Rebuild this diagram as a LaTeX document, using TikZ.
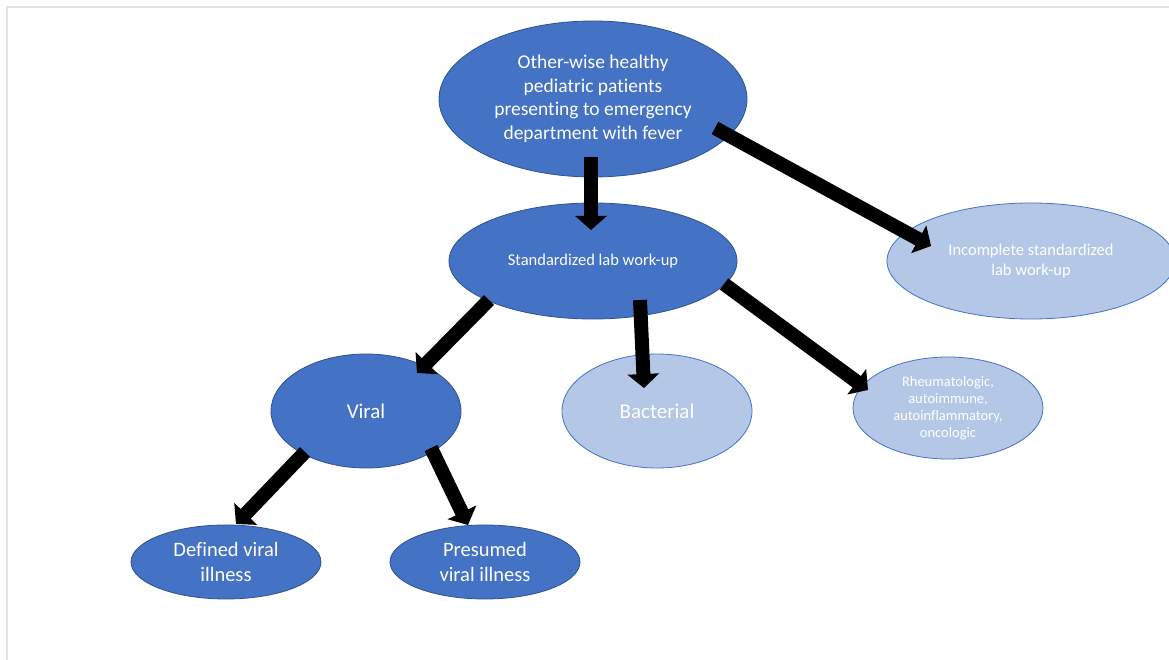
\documentclass[tikz,border=0pt]{standalone}
\usepackage{fontspec}
\setmainfont{Carlito}[Ligatures={NoCommon}]
\usetikzlibrary{shapes.geometric,arrows.meta}
\definecolor{darkfill}{HTML}{4472C4}
\definecolor{lightfill}{HTML}{B4C7E7}
\definecolor{edgeblue}{HTML}{2F528F}
\definecolor{framegray}{HTML}{E2E2E2}
\tikzset{
  oval/.style={ellipse, draw=edgeblue, line width=0.8bp, inner sep=0pt, text=white, align=center},
  darkoval/.style={oval, fill=darkfill},
  lightoval/.style={oval, fill=lightfill, draw=darkfill},
  bigarrow/.style={line width=14bp, black, -{Triangle[length=14bp,width=31bp]}},
}
\begin{document}
\begin{tikzpicture}[x=1bp,y=-1bp]
\useasboundingbox (0,0) rectangle (1169,660);
\draw[framegray, line width=1.5bp] (7,660) -- (7,7) -- (1169,7);

\node[darkoval, minimum width=308bp, minimum height=156bp,
  font=\fontsize{19.5bp}{23.5bp}\selectfont] (top) at (593,99)
  {Other-wise healthy\\pediatric patients\\presenting to emergency\\department with fever};
\node[darkoval, minimum width=288bp, minimum height=116bp,
  font=\fontsize{16.5bp}{20bp}\selectfont] (std) at (593,261) {Standardized lab work-up};
\node[lightoval, minimum width=288bp, minimum height=116bp,
  font=\fontsize{16.5bp}{19.5bp}\selectfont] (inc) at (1031,261) {Incomplete standardized\\lab work-up};
\node[darkoval, minimum width=190bp, minimum height=114bp,
  font=\fontsize{21bp}{25bp}\selectfont] (viral) at (366,411) {Viral};
\node[lightoval, minimum width=190bp, minimum height=114bp,
  font=\fontsize{21bp}{25bp}\selectfont] (bact) at (657,411) {Bacterial};
\node[lightoval, minimum width=190bp, minimum height=102bp,
  font=\fontsize{14.5bp}{17bp}\selectfont] (rheum) at (948,408) {Rheumatologic,\\autoimmune,\\autoinflammatory,\\oncologic};
\node[darkoval, minimum width=190bp, minimum height=74bp,
  font=\fontsize{20.5bp}{25bp}\selectfont] (def) at (226,562) {Defined viral\\illness};
\node[darkoval, minimum width=190bp, minimum height=74bp,
  font=\fontsize{20.5bp}{25bp}\selectfont] (pres) at (485,562) {Presumed\\viral illness};

\coordinate (a1s) at (591,157);  \coordinate (a1e) at (591,230);
\coordinate (a2s) at (715,128);  \coordinate (a2e) at (931,246);
\coordinate (a3s) at (489,300);  \coordinate (a3e) at (417,373);
\coordinate (a4s) at (640,300);  \coordinate (a4e) at (644,388);
\coordinate (a5s) at (724,284);  \coordinate (a5e) at (868,390);
\coordinate (a6s) at (305,452);  \coordinate (a6e) at (236,524);
\coordinate (a7s) at (431,448);  \coordinate (a7e) at (468,525);

\draw[bigarrow] (a1s) -- (a1e);
\draw[bigarrow] (a2s) -- (a2e);
\draw[bigarrow] (a3s) -- (a3e);
\draw[bigarrow] (a4s) -- (a4e);
\draw[bigarrow] (a5s) -- (a5e);
\draw[bigarrow] (a6s) -- (a6e);
\draw[bigarrow] (a7s) -- (a7e);
\end{tikzpicture}
\end{document}
